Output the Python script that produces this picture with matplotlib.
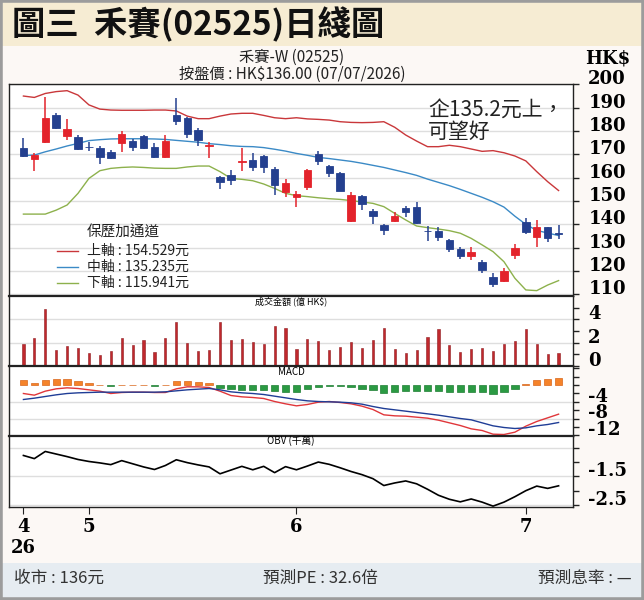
import numpy as np
import matplotlib.pyplot as plt
from matplotlib.patches import Rectangle
from matplotlib.transforms import blended_transform_factory

plt.rcParams['font.family'] = ['Noto Sans CJK TC', 'DejaVu Sans']

# daily candles, 2026-04-24 .. 2026-07-07
opens = [172.6, 168.0, 175.2, 187.0, 177.8, 177.5, 173.3, 172.6, 171.0, 175.0,
         175.6, 177.8, 173.1, 168.7, 186.9, 185.4, 180.6, 173.8, 160.2, 161.2,
         166.7, 167.8, 169.4, 163.7, 153.8, 151.9, 155.9, 170.1, 165.1, 162.1,
         141.4, 152.1, 145.9, 139.8, 141.4, 147.0, 147.3, 137.3, 137.3, 133.2,
         129.6, 126.4, 124.0, 117.6, 115.9, 126.9, 141.1, 134.7, 138.7, 136.2]
highs = [176.9, 170.8, 194.8, 187.6, 185.2, 178.5, 175.5, 173.4, 171.7, 180.0,
         176.8, 178.2, 175.0, 178.5, 194.2, 185.9, 181.2, 175.2, 160.7, 163.4,
         172.8, 170.6, 169.7, 164.4, 159.4, 154.1, 163.8, 171.5, 165.6, 162.5,
         153.8, 152.5, 146.8, 140.3, 145.1, 148.0, 149.8, 139.2, 138.9, 133.7,
         130.1, 130.1, 124.7, 119.3, 121.1, 131.6, 142.6, 141.9, 139.0, 139.8]
lows = [169.0, 163.0, 174.8, 181.0, 176.2, 171.7, 171.4, 165.9, 167.9, 171.2,
        171.4, 172.2, 168.5, 168.4, 182.8, 176.9, 173.7, 168.4, 155.1, 157.0,
        162.8, 162.8, 161.9, 152.4, 151.7, 147.4, 154.6, 165.3, 160.3, 154.1,
        141.0, 146.0, 140.1, 135.3, 141.2, 143.0, 140.2, 132.8, 132.8, 128.0,
        125.0, 124.9, 119.0, 113.3, 115.4, 125.0, 135.9, 130.4, 132.6, 133.8]
closes = [169.2, 169.7, 185.6, 181.3, 180.9, 172.5, 173.0, 169.0, 168.4, 178.8,
          173.2, 172.7, 168.7, 175.8, 184.1, 178.7, 176.0, 174.2, 158.3, 159.0,
          167.1, 164.4, 164.4, 156.9, 157.8, 153.0, 163.1, 167.0, 161.9, 154.3,
          152.4, 148.7, 143.8, 137.4, 143.5, 145.2, 140.5, 137.0, 134.8, 129.4,
          126.3, 128.3, 120.4, 114.4, 120.2, 129.7, 136.6, 138.7, 134.0, 136.0]

# bollinger channel
upper = [195.0, 194.4, 196.1, 196.9, 197.3, 195.4, 191.2, 189.4, 189.0, 188.9,
         188.9, 188.9, 189.0, 189.0, 188.6, 186.4, 185.3, 185.3, 186.4, 187.3,
         187.6, 187.6, 186.7, 185.7, 185.3, 185.7, 185.2, 185.0, 184.7, 184.0,
         183.7, 183.6, 183.7, 184.0, 181.6, 178.3, 175.7, 173.3, 173.3, 173.9,
         173.3, 172.3, 171.3, 171.6, 170.7, 169.3, 167.2, 162.6, 158.3, 154.5]
middle = [169.5, 169.7, 171.1, 172.3, 173.6, 174.7, 175.9, 176.3, 176.6, 176.7,
          176.7, 176.7, 176.6, 176.4, 176.0, 175.6, 175.2, 174.6, 174.2, 173.7,
          173.4, 173.3, 172.9, 172.2, 171.4, 170.4, 169.6, 168.7, 168.2, 167.6,
          167.0, 166.2, 165.3, 164.4, 163.3, 162.2, 161.0, 159.4, 158.0, 156.6,
          155.0, 153.3, 151.6, 149.7, 147.4, 143.5, 140.0, 137.4, 136.3, 135.2]
lower = [144.4, 144.4, 144.4, 146.1, 148.3, 153.3, 159.7, 163.0, 164.0, 164.4,
         164.6, 164.4, 164.1, 164.0, 164.0, 164.6, 165.0, 165.0, 162.6, 159.7,
         159.3, 158.7, 157.3, 155.4, 153.3, 152.3, 151.9, 151.4, 151.0, 150.7,
         150.2, 149.6, 149.0, 147.6, 144.7, 141.9, 139.3, 138.6, 138.0, 137.3,
         136.2, 134.0, 131.2, 128.3, 124.0, 116.9, 111.9, 111.6, 114.0, 115.9]

# turnover, 億 HK$
turnover = [1.92, 2.40, 4.92, 1.35, 1.69, 1.54, 1.15, 0.98, 1.32, 2.40,
            1.83, 2.26, 1.20, 2.40, 3.74, 1.97, 1.32, 1.35, 3.74, 2.20,
            2.29, 2.03, 1.86, 3.46, 3.23, 1.43, 2.35, 2.18, 1.40, 1.63,
            2.06, 1.58, 2.20, 3.29, 1.49, 1.11, 1.37, 2.52, 3.20, 1.83,
            1.20, 1.46, 1.58, 1.29, 1.86, 2.12, 3.14, 1.86, 1.06, 1.11]

# MACD
dif = [-2.0, -2.4, -1.44, -0.88, -0.64, -0.8, -1.12, -1.44, -2.0, -1.76,
       -1.68, -1.68, -1.76, -1.76, -0.88, -0.4, -0.4, -0.56, -1.44, -2.48,
       -2.8, -2.96, -3.2, -3.92, -4.48, -4.96, -4.64, -4.08, -3.92, -4.16,
       -4.48, -5.04, -5.84, -7.12, -7.36, -7.44, -7.68, -7.92, -8.4, -9.04,
       -9.68, -10.48, -10.88, -11.76, -11.84, -11.28, -9.84, -8.72, -7.84, -6.96]
dea = [-3.44, -3.12, -2.72, -2.32, -2.0, -1.84, -1.76, -1.68, -1.68, -1.68,
       -1.68, -1.68, -1.68, -1.6, -1.36, -1.12, -0.96, -0.8, -1.12, -1.6,
       -1.84, -2.0, -2.24, -2.64, -3.04, -3.44, -3.76, -3.92, -4.0, -4.08,
       -4.24, -4.56, -5.12, -5.6, -5.92, -6.24, -6.56, -6.88, -7.2, -7.6,
       -8.0, -8.32, -9.04, -9.76, -10.16, -10.4, -10.24, -9.76, -9.44, -8.96]
hist = [1.2, 0.56, 1.2, 1.44, 1.44, 0.88, 0.4, 0.1, -0.32, 0.15,
        0.15, 0.15, -0.25, 0.1, 0.9, 0.9, 0.8, 0.55, -0.64, -0.96,
        -1.2, -1.2, -1.2, -1.36, -1.6, -1.6, -1.04, -0.4, -0.24, -0.24,
        -0.56, -0.96, -1.2, -2.0, -1.6, -1.44, -1.44, -1.44, -1.44, -1.6,
        -1.6, -1.6, -1.68, -2.16, -1.68, -1.04, 0.16, 1.2, 1.36, 1.76]

# OBV, 千萬
obv = [-0.77, -0.88, -0.63, -0.72, -0.81, -0.91, -0.98, -1.03, -1.09, -0.95,
       -1.06, -1.17, -1.26, -1.12, -0.92, -1.02, -1.10, -1.17, -1.41, -1.28,
       -1.15, -1.27, -1.15, -1.37, -1.16, -1.27, -1.14, -1.00, -1.08, -1.20,
       -1.33, -1.44, -1.58, -1.82, -1.73, -1.66, -1.76, -1.95, -2.16, -2.30,
       -2.39, -2.29, -2.40, -2.54, -2.40, -2.21, -2.00, -1.84, -1.92, -1.83]

month_pos = [0, 6, 25, 46]
month_labels = ['4', '5', '6', '7']

RED = '#e3232b'
BLUE = '#24408f'
GRID = '#dedede'
num_font = dict(fontfamily='DejaVu Serif', fontweight='bold', fontsize=13)

W, H = 644, 600
fig = plt.figure(figsize=(W / 100, H / 100), dpi=100)
fig.patch.set_facecolor('#fcf8f5')

#background bands + outer frame
fig.add_artist(Rectangle((0, 1 - 46 / H), 1, 46 / H, transform=fig.transFigure,
                         facecolor='#f6ecd3', edgecolor='none', zorder=0))
fig.add_artist(Rectangle((0, 0), 1, 37 / H, transform=fig.transFigure,
                         facecolor='#e6ecf1', edgecolor='none', zorder=0))
fig.add_artist(Rectangle((0, 0), 1, 1, transform=fig.transFigure,
                         facecolor='none', edgecolor='#9c9c9c', lw=4, zorder=10))


def px_axes(left, top, right, bottom):
    return fig.add_axes([left / W, 1 - bottom / H, (right - left) / W, (bottom - top) / H])


def style_axes(ax, ylim):
    ax.set_xlim(-1.32, 50.32)
    ax.set_ylim(*ylim)
    ax.set_facecolor('white')
    ax.yaxis.tick_right()
    ax.tick_params(axis='y', which='both', direction='out', length=4, width=1, pad=7, color='#222')
    ax.tick_params(axis='x', bottom=False, labelbottom=False)
    for s in ax.spines.values():
        s.set_color('#222')
        s.set_linewidth(1)
    ax.grid(axis='y', color=GRID, lw=1)
    ax.set_axisbelow(True)


x = np.arange(len(closes))

#price panel with candles + bollinger channel
ax = px_axes(9, 84, 573, 296)
style_axes(ax, (109.3, 200.16))
ax.set_yticks(range(110, 201, 10), [str(v) for v in range(110, 201, 10)],
              verticalalignment='baseline', **num_font)
ax.plot(x, upper, color='#c9373a', lw=1, zorder=2)
ax.plot(x, middle, color='#3b8ac6', lw=1, zorder=2)
ax.plot(x, lower, color='#8db14c', lw=1, zorder=2)
o, c = np.array(opens), np.array(closes)
col = np.where(c >= o, RED, BLUE)
ax.vlines(x, lows, highs, colors=col, lw=1.1, zorder=3)
ax.bar(x, np.maximum(np.abs(c - o), 0.35), bottom=np.minimum(o, c), width=0.68,
       color=col, edgecolor=col, lw=0.6, zorder=4)

ax.text(0.1383, 0.302, '保歷加通道', transform=ax.transAxes, fontsize=10.5, va='center', color='#222')
for yy, lab, lc in [(0.212, '上軸 : 154.529元', '#c9373a'),
                    (0.137, '中軸 : 135.235元', '#3b8ac6'),
                    (0.0613, '下軸 : 115.941元', '#8db14c')]:
    ax.plot([0.0851, 0.1223], [yy, yy], color=lc, lw=1, transform=ax.transAxes)
    ax.text(0.1383, yy, lab, transform=ax.transAxes, fontsize=10, va='center', color='#222')
ax.text(0.743, 0.873, '企135.2元上，', transform=ax.transAxes, fontsize=15, va='center', color='#222')
ax.text(0.743, 0.774, '可望好', transform=ax.transAxes, fontsize=15, va='center', color='#222')

#turnover panel
axv = px_axes(9, 296, 573, 366)
style_axes(axv, (0, 6))
axv.set_yticks([0, 2, 4], ['0', '2', '4'], verticalalignment='baseline', **num_font)
axv.set_yticks([1, 3, 5], minor=True)
axv.bar(x, turnover, width=0.2, color='#c0282d', edgecolor='#8f1c20', lw=0.4)
axv.text(0.5, 0.93, '成交金額 (億 HK$)', transform=axv.transAxes, fontsize=6.5, ha='center', va='center')
axv.spines['top'].set_linewidth(1.6)

#MACD panel
axm = px_axes(9, 366, 573, 436)
style_axes(axm, (-12.2, 4.6))
axm.set_yticks([-12, -8, -4], ['-12', '-8', '-4'], verticalalignment='baseline', **num_font)
axm.set_yticks([-10, -6, -2, 0, 2, 4], minor=True)
h = np.array(hist)
axm.bar(x, h, width=0.66, color=np.where(h >= 0, '#f5832a', '#2b9a43'),
        edgecolor=np.where(h >= 0, '#d9661a', '#1f7f34'), lw=0.5, zorder=2)
axm.plot(x, dif, color='#e0363a', lw=1, zorder=3)
axm.plot(x, dea, color='#1f3d96', lw=1, zorder=3)
axm.text(0.5, 0.914, 'MACD', transform=axm.transAxes, fontsize=7, ha='center', va='center')
axm.spines['top'].set_linewidth(1.6)

#OBV panel
axo = px_axes(9, 436, 573, 507)
style_axes(axo, (-2.57, -0.09))
axo.set_yticks([-2.5, -1.5, -0.5], ['-2.5', '-1.5', ''], verticalalignment='baseline', **num_font)
axo.set_yticks([-2, -1], minor=True)
axo.plot(x, obv, color='black', lw=1.2)
axo.text(0.5, 0.93, 'OBV (千萬)', transform=axo.transAxes, fontsize=7, ha='center', va='center')
axo.spines['top'].set_linewidth(1.6)
axo.tick_params(axis='x', bottom=True, labelbottom=True, direction='out', length=5, pad=3, color='#222')
axo.set_xticks(month_pos, month_labels, **num_font)
axo.text(0, -0.58, '26', transform=blended_transform_factory(axo.transData, axo.transAxes),
         ha='center', va='center', **num_font)

#header and footer texts
fig.text(12 / W, 1 - 25 / H, '圖三  禾賽(02525)日綫圖', fontsize=24, fontweight='bold',
         va='center', color='#111')
fig.text(292 / W, 1 - 57 / H, '禾賽-W (02525)', fontsize=11, ha='center', va='center', color='#222')
fig.text(292 / W, 1 - 74 / H, '按盤價 : HK$136.00 (07/07/2026)', fontsize=11, ha='center',
         va='center', color='#222')
fig.text(585 / W, 1 - 58 / H, 'HK$', va='center', ha='left', **num_font)
fig.text(14 / W, 1 - 578 / H, '收市 : 136元', fontsize=12, va='center', color='#333')
fig.text(320 / W, 1 - 578 / H, '預測PE : 32.6倍', fontsize=12, ha='center', va='center', color='#333')
fig.text(632 / W, 1 - 578 / H, '預測息率 : —', fontsize=12, ha='right', va='center', color='#333')

fig.savefig('out.png', dpi=100, facecolor=fig.get_facecolor())
